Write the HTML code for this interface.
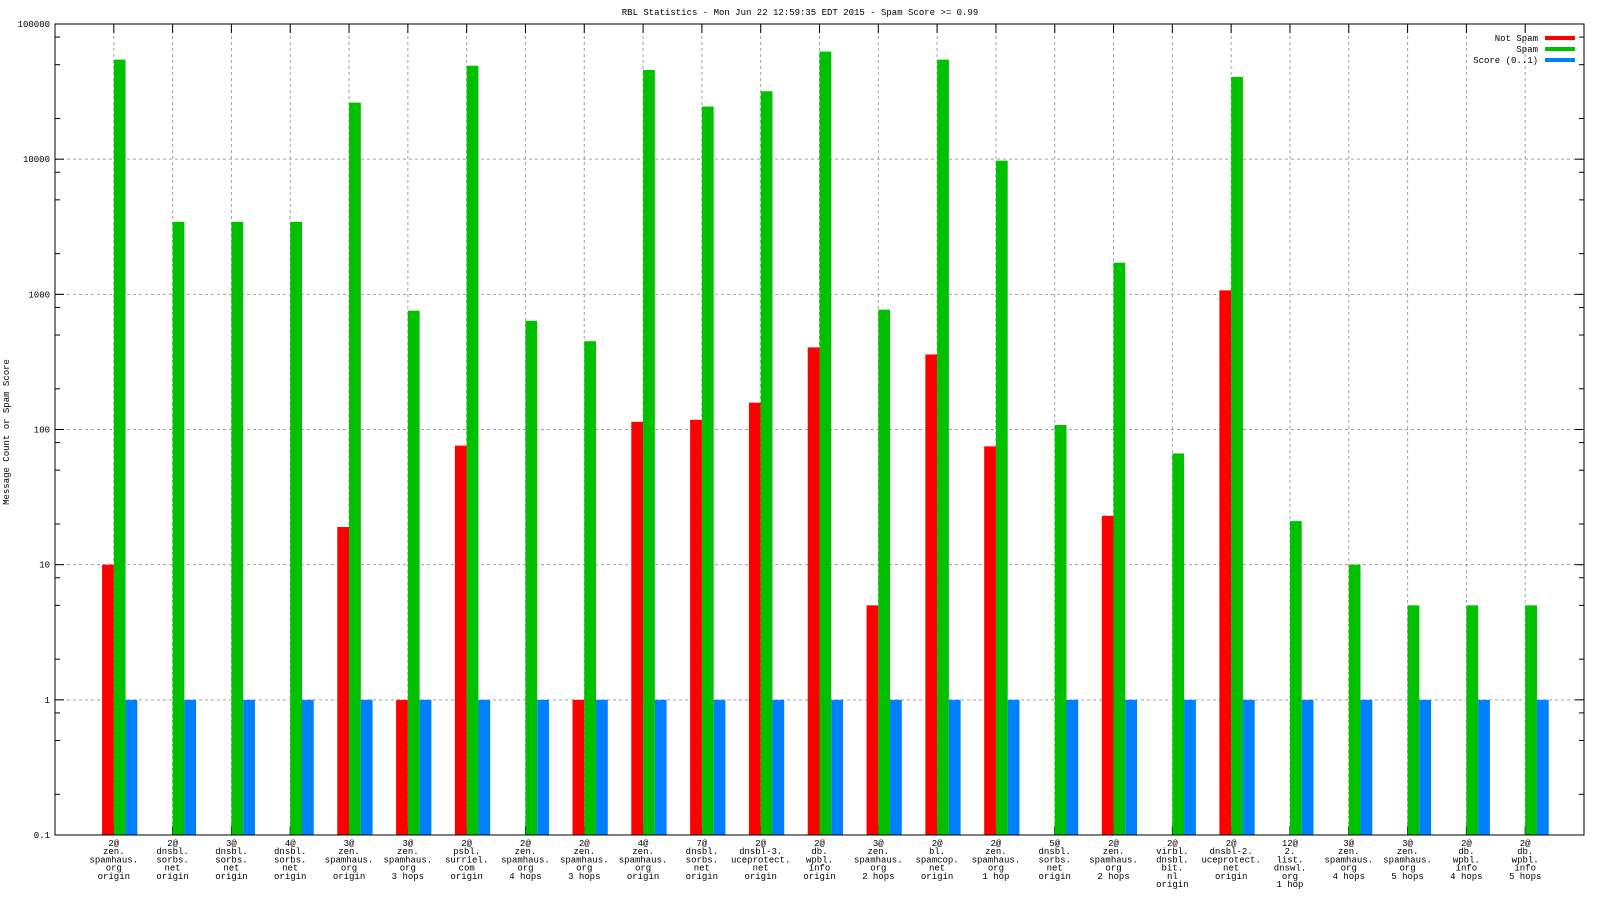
<!DOCTYPE html>
<html><head><meta charset="utf-8"><style>
body{margin:0;background:#fff}
svg{display:block}
text{font-family:"Liberation Mono",monospace;font-size:9px;fill:#000}
</style></head><body>
<svg id="c" width="1600" height="900"></svg>
<script>
const categories=[
["2@","zen.","spamhaus.","org","origin"],["2@","dnsbl.","sorbs.","net","origin"],["3@","dnsbl.","sorbs.","net","origin"],["4@","dnsbl.","sorbs.","net","origin"],["3@","zen.","spamhaus.","org","origin"],["3@","zen.","spamhaus.","org","3 hops"],["2@","psbl.","surriel.","com","origin"],["2@","zen.","spamhaus.","org","4 hops"],["2@","zen.","spamhaus.","org","3 hops"],["4@","zen.","spamhaus.","org","origin"],["7@","dnsbl.","sorbs.","net","origin"],["2@","dnsbl-3.","uceprotect.","net","origin"],["2@","db.","wpbl.","info","origin"],["3@","zen.","spamhaus.","org","2 hops"],["2@","bl.","spamcop.","net","origin"],["2@","zen.","spamhaus.","org","1 hop"],["5@","dnsbl.","sorbs.","net","origin"],["2@","zen.","spamhaus.","org","2 hops"],["2@","virbl.","dnsbl.","bit.","nl","origin"],["2@","dnsbl-2.","uceprotect.","net","origin"],["12@","2.","list.","dnswl.","org","1 hop"],["3@","zen.","spamhaus.","org","4 hops"],["3@","zen.","spamhaus.","org","5 hops"],["2@","db.","wpbl.","info","4 hops"],["2@","db.","wpbl.","info","5 hops"]];
const notSpam=[10,null,null,null,19,1,76,null,1,114,118,158,405,5,359,75,null,23,null,1070,null,null,null,null,null];
const spam=[54500,3440,3440,3440,26200,757,49100,637,450,45700,24500,31800,62500,770,54500,9750,108,1714,66.5,40600,21,10,5,5,5];
const score=[1,1,1,1,1,1,1,1,1,1,1,1,1,1,1,1,1,1,1,1,1,1,1,1,1];
const yTicks=[0.1,1,10,100,1000,10000,100000];
const yTickLabels=["0.1","1","10","100","1000","10000","100000"];
const seriesNames=["Not Spam","Spam","Score (0..1)"];
const colors=["#ff0000","#00c000","#0080ff"];

const svg=document.getElementById('c');const NS="http://www.w3.org/2000/svg";
function mk(t,a,p){const e=document.createElementNS(NS,t);for(const k in a)e.setAttribute(k,a[k]);(p||svg).appendChild(e);return e;}
const L=55,R=1584,T=24,B=835;
const xs=i=>L+(i+1)*(R-L)/26;
const unit=(R-L)/26;
const ys=v=>B-(Math.log10(v)+1)/6*(B-T);

let t=mk('text',{x:800,y:15,'text-anchor':'middle'});t.textContent="RBL Statistics - Mon Jun 22 12:59:35 EDT 2015 - Spam Score >= 0.99";

t=mk('text',{x:9,y:432,'text-anchor':'middle',transform:'rotate(-90 9 432)'});t.textContent="Message Count or Spam Score";


// grid & ticks
yTicks.forEach((v,i)=>{const y=ys(v);
 if(i>0&&i<yTicks.length-1){mk('line',{x1:L,x2:R,y1:y,y2:y,stroke:'#a0a0a0','stroke-dasharray':'3,3'});}
 mk('line',{x1:L,x2:L+9,y1:y,y2:y,stroke:'#000'});mk('line',{x1:R,x2:R-9,y1:y,y2:y,stroke:'#000'});
 const tx=mk('text',{x:50,y:y+3,'text-anchor':'end'});tx.textContent=yTickLabels[i];
 
 if(i<yTicks.length-1){[2,5,8].forEach(m=>{const yy=ys(v*m);mk('line',{x1:L,x2:L+5,y1:yy,y2:yy,stroke:'#000'});mk('line',{x1:R,x2:R-5,y1:yy,y2:yy,stroke:'#000'});});}
});
categories.forEach((c,i)=>{const x=xs(i);
 mk('line',{x1:x,x2:x,y1:T,y2:B,stroke:'#a0a0a0','stroke-dasharray':'3,3'});
 mk('line',{x1:x,x2:x,y1:T,y2:T+9,stroke:'#000'});mk('line',{x1:x,x2:x,y1:B,y2:B-9,stroke:'#000'});
 const g=mk('text',{x:x,y:846,'text-anchor':'middle'});
 
 c.forEach((s,j)=>{const ts=mk('tspan',{x:x,dy:j?8.2:0},g);ts.textContent=s;});
});
// bars
[notSpam,spam,score].forEach((arr,s)=>{arr.forEach((v,i)=>{if(v==null)return;
 const x0=xs(i)+(s-1)*unit*0.2-unit*0.0 - (s===0?0:0);
 const left=xs(i)-unit*0.2+s*unit*0.2;
 const r=mk('rect',{x:left,y:ys(v),width:unit*0.2,height:B-ys(v),fill:colors[s]});
 
 
});});
mk('rect',{x:L,y:T,width:R-L,height:B-T,fill:'none',stroke:'#000','stroke-width':1});
// legend
seriesNames.forEach((n,i)=>{const y=38+i*11;
 const tx=mk('text',{x:1538,y:y+3,'text-anchor':'end'});tx.textContent=n;
 
 mk('rect',{x:1545,y:y-2,width:30,height:4,fill:colors[i]});
});
</script>
</body></html>
